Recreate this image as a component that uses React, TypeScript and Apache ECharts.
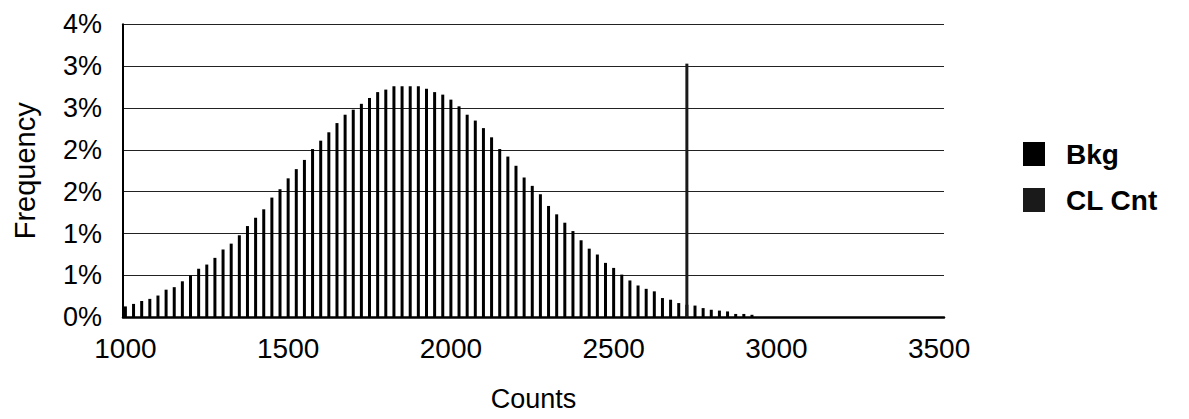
import React, { useEffect, useRef } from "react";
import * as echarts from "echarts";

const binStart = 1000;
const binWidth = 25;
const bkgValues = [
  0.13, 0.16, 0.195, 0.22, 0.26, 0.33, 0.36, 0.43, 0.5, 0.58,
  0.63, 0.71, 0.81, 0.88, 0.98, 1.09, 1.19, 1.29, 1.43, 1.53,
  1.66, 1.77, 1.88, 2.01, 2.11, 2.21, 2.32, 2.42, 2.48, 2.55,
  2.62, 2.69, 2.72, 2.76, 2.76, 2.76, 2.76, 2.73, 2.69, 2.66,
  2.6, 2.52, 2.42, 2.35, 2.26, 2.15, 2.01, 1.92, 1.81, 1.67,
  1.57, 1.47, 1.33, 1.23, 1.13, 1.03, 0.92, 0.82, 0.75, 0.65,
  0.59, 0.51, 0.44, 0.38, 0.34, 0.31, 0.23, 0.21, 0.17, 0.15,
  0.14, 0.11, 0.09, 0.08, 0.07, 0.04, 0.04, 0.03,
];
const clCount = [2725];
const clValue = [3.03];
const xTickLabels = [1000, 1500, 2000, 2500, 3000, 3500];
const yMax = 3.5;
const yInterval = 0.5;

const FONT = "'Liberation Sans', Arial, sans-serif";

export default function App() {
  const ref = useRef<HTMLDivElement>(null);
  useEffect(() => {
    if (!ref.current) return;
    const chart = echarts.init(ref.current, null, { renderer: "svg" });
    const bkgData = bkgValues.map((v, i) => [binStart + i * binWidth, v]);
    const clData = clCount.map((c, i) => [c, clValue[i]]);
    chart.setOption({
      animation: false,
      backgroundColor: "#ffffff",
      textStyle: { fontFamily: FONT, color: "#000" },
      grid: {
        left: 123,
        top: 24.3,
        width: 821,
        height: 293,
        containLabel: false,
        outerBoundsMode: "none",
      },
      legend: {
        orient: "vertical",
        left: 1018,
        top: 135,
        itemWidth: 22,
        itemHeight: 24,
        itemGap: 18,
        icon: "rect",
        textStyle: {
          fontFamily: FONT,
          fontSize: 28,
          fontWeight: "bold",
          color: "#000",
          padding: [0, 0, 0, 16],
        },
        data: ["Bkg", "CL Cnt"],
      },
      xAxis: {
        type: "value",
        min: 992.6,
        max: 3515,
        name: "Counts",
        nameLocation: "middle",
        nameGap: 68,
        nameTextStyle: { fontFamily: FONT, fontSize: 27, color: "#000" },
        axisLine: { show: true, lineStyle: { color: "#000", width: 2.5 } },
        axisTick: { show: false },
        splitLine: { show: false },
        axisLabel: {
          customValues: xTickLabels,
          formatter: (v: number) => String(v),
          fontFamily: FONT,
          fontSize: 28,
          color: "#000",
          margin: 17,
        },
      },
      yAxis: {
        type: "value",
        min: 0,
        max: yMax,
        interval: yInterval,
        name: "Frequency",
        nameLocation: "middle",
        nameGap: 84,
        nameTextStyle: { fontFamily: FONT, fontSize: 29, color: "#000" },
        axisLine: { show: true, lineStyle: { color: "#000", width: 2 } },
        axisTick: { show: false },
        splitLine: { show: true, lineStyle: { color: "#222", width: 1 } },
        axisLabel: {
          formatter: (v: number) => Math.round(v) + "%",
          fontFamily: FONT,
          fontSize: 27,
          color: "#000",
          margin: 21,
        },
      },
      series: [
        {
          name: "Bkg",
          type: "bar",
          data: bkgData,
          barWidth: 3,
          barGap: "-100%",
          itemStyle: { color: "#000" },
        },
        {
          name: "CL Cnt",
          type: "bar",
          data: clData,
          barWidth: 3,
          barGap: "-100%",
          itemStyle: { color: "#1a1a1a" },
        },
      ],
    });
    return () => chart.dispose();
  }, []);
  return (
    <div
      ref={ref}
      style={{ position: "absolute", left: 0, top: 0, width: 1189, height: 419 }}
    />
  );
}
